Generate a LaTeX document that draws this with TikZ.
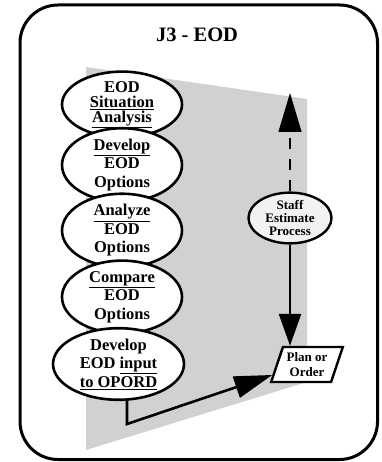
\documentclass[tikz,border=0pt]{standalone}
\usepackage{fontspec}
\setmainfont{Liberation Serif}
\usetikzlibrary{shapes.geometric,arrows.meta,calc}
\begin{document}
\begin{tikzpicture}[x=1pt,y=-1pt,
  stepel/.style={ellipse,draw,line width=2.6pt,fill=white,inner sep=0pt,
    align=center,font=\bfseries\fontsize{16.5}{18.5}\selectfont},
  flow/.style={line width=2.6pt,-{Triangle[length=34pt,width=22pt]}}]
  \useasboundingbox (0,0) rectangle (381,462);
  % frame
  \draw[line width=3pt,rounded corners=38pt] (20,5) rectangle (377.5,459.5);
  \node[font=\bfseries\fontsize{20.5}{22}\selectfont] (title) at (197,35) {J3 - EOD};
  % shaded band
  \fill[black!18] (86,67) -- (307,99) -- (307,382) -- (86,450) -- cycle;
  % process steps
  \node[stepel,minimum width=120pt,minimum height=65pt,
        font=\bfseries\fontsize{16.5}{15}\selectfont] (e1) at (122,104.5)
        {EOD\\\underline{Situation}\\\underline{Analysis}};
  \node[stepel,minimum width=120pt,minimum height=66pt] (e2) at (122,165)
        {\underline{Develop}\\EOD\\Options};
  \node[stepel,minimum width=120pt,minimum height=65pt] (e3) at (122,230.5)
        {\underline{Analyze}\\EOD\\Options};
  \node[stepel,minimum width=120pt,minimum height=68pt] (e4) at (122,297)
        {\underline{Compare}\\EOD\\Options};
  \node[stepel,minimum width=131pt,minimum height=68pt] (e5) at (118.5,364)
        {Develop\\EOD \underline{input}\\\underline{to OPORD}};
  % staff estimate
  \node[ellipse,draw,line width=2.4pt,fill=black!5,inner sep=0pt,
        minimum width=83pt,minimum height=50pt,align=center,
        font=\bfseries\fontsize{13}{13.3}\selectfont] (staff) at (290,218)
        {Staff\\Estimate\\Process};
  % plan or order
  \node[trapezium,draw,line width=2.4pt,fill=white,inner sep=0pt,
        trapezium left angle=68,trapezium right angle=112,
        trapezium stretches=true,minimum width=72pt,minimum height=35pt,
        align=center,font=\bfseries\fontsize{13}{15.5}\selectfont] (plan) at (307,364.5)
        {Plan or\\Order};
  % connectors
  \coordinate (up) at (290,93);
  \coordinate (bend) at (127,424);
  \coordinate (entry) at ($(plan.bottom left corner)!0.22!(plan.top left corner)$);
  \draw[line width=1.3pt,dash pattern=on 11pt off 10pt] (staff.north) -- (290,132);
  \draw[line width=1.3pt,-{Triangle[length=39pt,width=23pt]}] (290,131) -- (up);
  \draw[flow,-{Triangle[length=32pt,width=22pt]}] (staff.south) -- (staff.south |- plan.north);
  \draw[flow,-{Triangle[length=38pt,width=22pt]}] (bend |- e5.south) ++(0,-2) -- (bend) -- (entry);
\end{tikzpicture}
\end{document}
